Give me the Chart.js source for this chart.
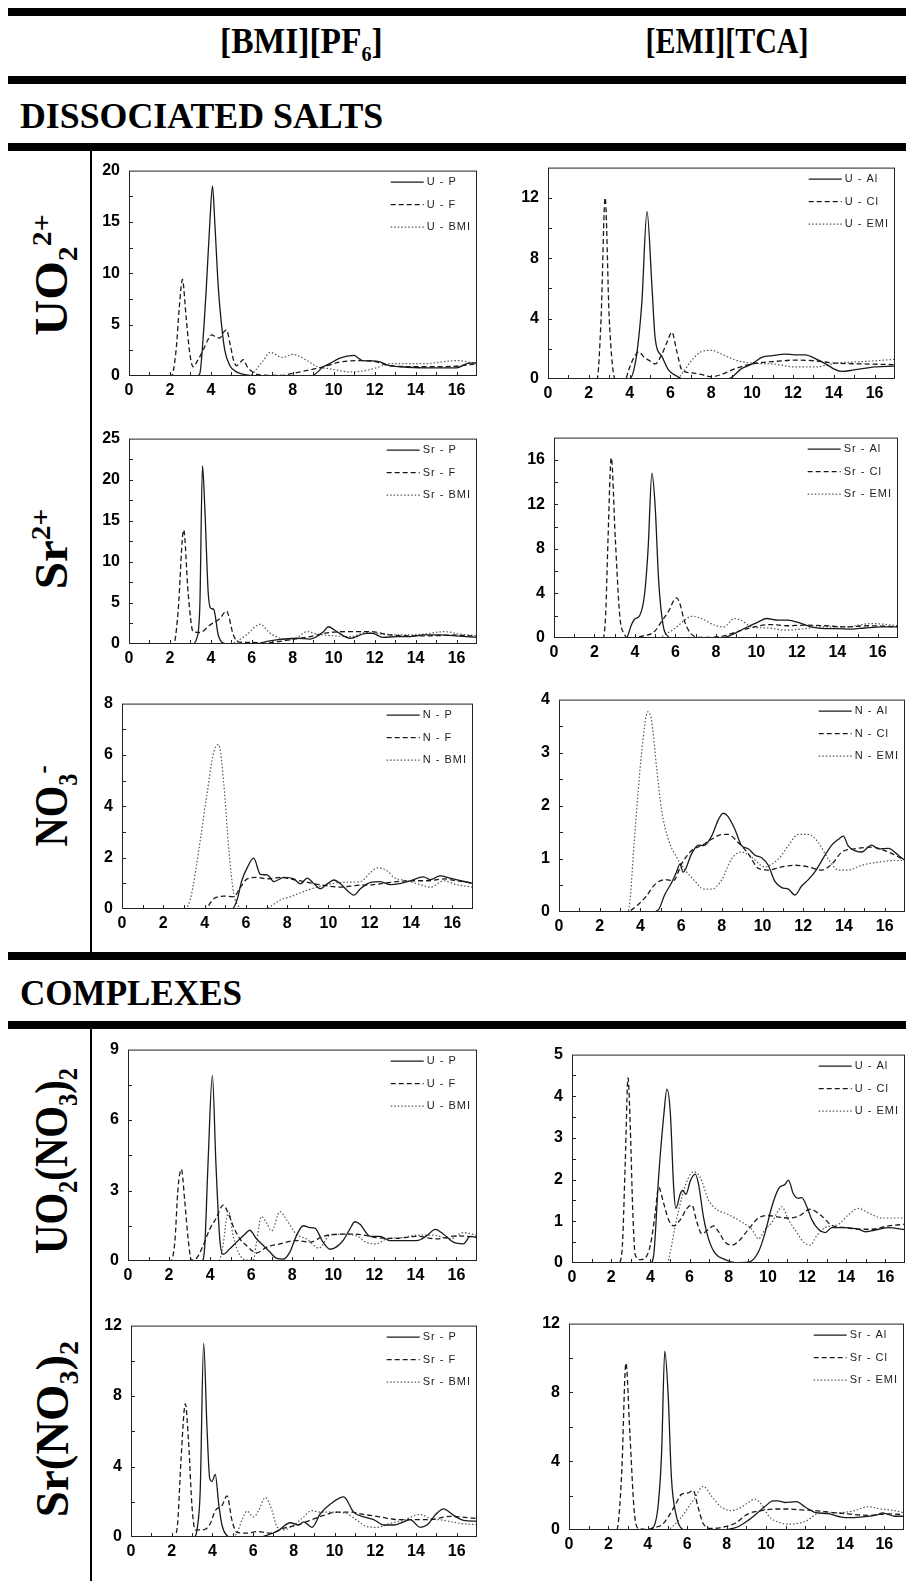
<!DOCTYPE html>
<html>
<head>
<meta charset="utf-8">
<script src="https://cdn.jsdelivr.net/npm/chart.js@4.4.0/dist/chart.umd.min.js"></script>
<style>
html, body { margin: 0; padding: 0; background: #fff; width: 906px; height: 1581px; overflow: hidden; }
.bar { position: absolute; left: 8px; width: 898px; height: 8px; background: #000; }
.vline { position: absolute; left: 90px; width: 2px; background: #000; }
.txt { position: absolute; font-family: "Liberation Serif", "Times New Roman", serif; font-weight: bold; white-space: nowrap; color: #000; line-height: 1; }
.txt sub, .txt sup { font-size: 60%; line-height: 0; }
.panel { position: absolute; }
</style>
</head>
<body>

<div class="bar" style="top:8px"></div>
<div class="bar" style="top:76px"></div>
<div class="bar" style="top:143px"></div>
<div class="bar" style="top:952px"></div>
<div class="bar" style="top:1021px"></div>
<div class="vline" style="top:151px;height:801px"></div>
<div class="vline" style="top:1029px;height:552px"></div>

<div class="txt" id="h1" style="font-size:36px">[BMI][PF<sub>6</sub>]</div>
<div class="txt" id="h2" style="font-size:36px">[EMI][TCA]</div>
<div class="txt" id="s1" style="font-size:36px">DISSOCIATED SALTS</div>
<div class="txt" id="s2" style="font-size:36px">COMPLEXES</div>
<div class="txt" id="r1" style="font-size:46px">UO<sub>2</sub><sup>2+</sup></div>
<div class="txt" id="r2" style="font-size:46px">Sr<sup>2+</sup></div>
<div class="txt" id="r3" style="font-size:46px">NO<sub>3</sub><sup>-</sup></div>
<div class="txt" id="r4" style="font-size:46px">UO<sub>2</sub>(NO<sub>3</sub>)<sub>2</sub></div>
<div class="txt" id="r5" style="font-size:46px">Sr(NO<sub>3</sub>)<sub>2</sub></div>

<script>
// radial distribution functions g(r), r in Angstrom
// --- dissociated salts, [BMI][PF6]
var uBmi_P   = [[0,0],[3.3,0],[3.46,0.25],[3.62,3.7],[3.78,8.7],[3.95,15],[4.08,18.5],[4.19,15],[4.36,8.7],[4.52,5],[4.68,2.5],[4.93,1.0],[5.25,0.4],[5.74,0.1],[6.2,0],[8.9,0],[9.5,0.9],[9.8,1.2],[10.3,1.75],[11.0,2.0],[11.1,1.9],[11.4,1.5],[12.1,1.45],[12.75,1.0],[13.25,0.9],[14.4,0.8],[16.0,0.8],[16.5,1.2],[17,1.3]];
var uBmi_F   = [[0,0],[2.07,0],[2.3,2.5],[2.45,6.5],[2.61,9.4],[2.78,6],[2.95,2.5],[3.13,0.9],[3.35,1.5],[3.62,2.5],[3.85,3.5],[4.03,4.0],[4.25,3.8],[4.44,3.7],[4.6,4.2],[4.76,4.5],[4.95,3.0],[5.1,1.6],[5.25,1.0],[5.42,1.3],[5.58,1.6],[5.75,1.0],[5.9,0.6],[6.4,0.1],[7.5,0.05],[7.86,0.2],[8.84,0.6],[9.5,0.9],[10.3,1.35],[11.1,1.5],[11.9,1.45],[12.75,1.0],[14.4,0.9],[16.0,0.95],[17,1.2]];
var uBmi_BMI = [[0,0],[5.9,0],[6.07,0.3],[6.56,1.5],[6.9,2.3],[7.5,1.8],[8.0,2.1],[8.7,1.5],[9.2,0.9],[9.8,0.7],[10.8,0.4],[11.45,0.5],[12.1,0.8],[12.75,1.2],[14.4,1.2],[16.0,1.5],[17,1.2]];

var srBmi_P   = [[0,0],[3.1,0],[3.3,0.6],[3.46,4.6],[3.59,21.7],[3.7,16.8],[3.87,6.2],[3.98,4.4],[4.14,4.2],[4.36,1.1],[4.6,0.1],[4.8,0],[6.3,0],[6.4,0.1],[7.2,0.5],[8.2,0.7],[8.84,0.6],[9.5,1.5],[9.74,2.1],[10.15,1.5],[10.8,0.7],[11.6,1.3],[11.9,1.3],[12.4,0.8],[13.1,0.9],[13.7,0.9],[14.4,1.1],[15.2,1.1],[16.0,1.0],[17,0.8]];
var srBmi_F   = [[0,0],[2.15,0],[2.25,0.5],[2.4,4],[2.67,13.9],[2.89,6.2],[3.13,1.5],[3.46,1.4],[3.95,2.3],[4.44,3.1],[4.76,4.0],[5.1,1.1],[5.33,0.25],[5.9,0.2],[6.56,0.1],[7.86,0.5],[8.84,0.9],[9.8,1.4],[10.8,1.5],[11.8,1.5],[12.75,1.1],[13.7,1.0],[14.7,1.0],[16.0,1.1],[17,0.9]];
var srBmi_BMI = [[0,0],[5.0,0],[5.25,0.3],[5.74,1.1],[6.4,2.4],[6.9,1.3],[7.4,0.7],[8.0,0.5],[8.7,1.5],[9.2,1.2],[10.0,1.0],[10.8,0.9],[11.6,1.4],[12.4,1.2],[13.4,1.1],[14.4,1.2],[15.4,1.5],[16.2,1.2],[17,1.0]];

var nBmi_P   = [[0,0],[5.33,0],[5.57,0.35],[5.8,1.1],[6.06,1.6],[6.38,1.98],[6.7,1.35],[7.03,1.33],[7.35,1.07],[7.84,1.23],[8.32,1.17],[8.64,0.98],[8.97,1.2],[9.3,0.98],[9.6,0.79],[9.94,0.98],[10.26,1.13],[10.58,0.98],[10.9,0.73],[11.23,0.54],[11.55,0.79],[12.04,1.04],[12.5,1.07],[13.0,0.95],[13.5,1.0],[13.97,1.1],[14.6,1.25],[14.94,1.14],[15.4,1.29],[15.9,1.2],[16.4,1.1],[17,1.0]];
var nBmi_F   = [[0,0],[4.0,0],[4.44,0.4],[4.93,0.5],[5.41,0.48],[5.74,0.85],[6.06,1.17],[6.54,1.23],[7.03,1.17],[7.67,1.23],[8.16,1.17],[8.97,1.04],[9.77,0.92],[10.58,0.85],[11.39,0.92],[12.2,0.95],[13.0,1.04],[13.97,1.1],[14.78,1.1],[15.6,1.17],[16.2,1.1],[17,1.0]];
var nBmi_BMI = [[0,0],[3.0,0],[3.3,0.35],[3.8,2.73],[4.12,4.5],[4.44,6.1],[4.68,6.4],[4.93,4.87],[5.17,2.36],[5.41,0.6],[5.65,0.1],[5.9,0],[7.0,0],[7.19,0.1],[7.67,0.35],[8.16,0.48],[8.97,0.73],[9.77,0.92],[10.74,1.04],[11.55,1.07],[12.04,1.42],[12.36,1.6],[12.85,1.48],[13.17,1.23],[13.8,1.1],[14.45,0.95],[14.94,0.85],[15.59,1.1],[16.2,0.95],[17,0.85]];

// --- dissociated salts, [EMI][TCA]
var uEmi_Al  = [[0,0],[4.0,0],[4.27,1.0],[4.45,2.8],[4.6,5.1],[4.85,11.1],[5.09,6.2],[5.25,2.7],[5.58,1.5],[5.9,0.6],[6.3,0.2],[6.6,0],[8.8,0],[9.5,0.7],[10.0,1.0],[10.5,1.45],[11.0,1.55],[11.6,1.65],[12.1,1.6],[12.6,1.6],[13.1,1.35],[13.6,1.0],[14.1,0.6],[14.4,0.5],[15.0,0.6],[16.0,0.8],[17,0.85]];
var uEmi_Cl  = [[0,0],[2.4,0],[2.6,4],[2.8,12.0],[3.0,4],[3.3,0],[3.8,0],[3.95,0.6],[4.2,1.4],[4.44,1.8],[4.7,1.45],[4.93,1.25],[5.25,1.0],[5.58,1.65],[5.85,2.5],[6.07,3.1],[6.3,1.9],[6.56,0.6],[7.05,0.4],[7.5,0.3],[8.0,0.15],[8.5,0.3],[9.2,0.7],[10.0,1.0],[11.0,1.15],[12.1,1.25],[13.1,1.2],[14.1,1.05],[15.4,1.0],[17,0.95]];
var uEmi_EMI = [[0,0],[6.3,0],[6.56,0.35],[7.05,1.25],[7.5,1.8],[8.0,1.9],[8.5,1.65],[9.2,1.25],[10.0,1.05],[11.0,1.0],[12.1,0.8],[13.1,0.8],[14.1,1.05],[15.4,1.15],[17,1.3]];

var srEmi_Al  = [[0,0],[3.57,0],[3.82,1.15],[3.99,1.7],[4.23,2.0],[4.48,4.0],[4.65,8],[4.84,14.8],[5.0,11.8],[5.17,5.2],[5.39,1.15],[5.63,0.15],[5.8,0],[8.2,0],[8.6,0.15],[9.4,0.85],[10.1,1.45],[10.5,1.75],[11.07,1.6],[11.56,1.6],[12.06,1.4],[12.7,1.0],[13.4,0.85],[14.0,0.85],[14.7,0.8],[15.35,0.9],[16.2,1.0],[17,1.0]];
var srEmi_Cl  = [[0,0],[2.42,0],[2.55,2],[2.67,8.9],[2.83,16.2],[3.03,8.9],[3.25,2.0],[3.49,0.3],[3.7,0],[3.9,0],[4.32,0.15],[4.98,0.6],[5.3,1.45],[5.63,2.3],[6.05,3.6],[6.2,3.2],[6.46,1.45],[6.79,0.35],[7.28,0.05],[8.27,0.15],[9.1,0.6],[9.9,1.0],[10.7,1.2],[11.56,1.1],[12.4,1.15],[13.4,1.1],[14.4,1.0],[15.5,1.1],[17,1.0]];
var srEmi_EMI = [[0,0],[5.2,0],[5.47,0.3],[5.96,0.85],[6.46,1.6],[6.79,1.95],[7.28,1.75],[7.94,1.15],[8.4,1.0],[8.9,1.75],[9.25,1.6],[9.75,1.0],[10.6,0.9],[11.4,0.7],[12.2,0.8],[13.2,1.0],[14.4,1.0],[15.7,1.3],[17,1.1]];

var nEmi_Al  = [[0,0],[4.55,0],[4.88,0.04],[5.2,0.33],[5.53,0.55],[5.78,0.76],[5.94,0.9],[6.1,0.75],[6.52,1.1],[6.85,1.26],[7.1,1.25],[7.5,1.43],[7.83,1.74],[8.07,1.86],[8.3,1.8],[8.65,1.55],[8.97,1.25],[9.3,1.19],[9.63,1.07],[9.96,1.02],[10.28,0.88],[10.6,0.58],[10.94,0.46],[11.27,0.43],[11.6,0.32],[11.92,0.49],[12.25,0.61],[12.58,0.76],[13.07,1.07],[13.4,1.26],[13.73,1.37],[13.97,1.43],[14.2,1.25],[14.5,1.16],[14.87,1.13],[15.36,1.26],[15.7,1.19],[16.18,1.2],[16.67,1.07],[17,0.97]];
var nEmi_Cl  = [[0,0],[3.32,0],[3.73,0.09],[4.23,0.27],[4.72,0.52],[5.2,0.61],[5.62,0.59],[6.03,0.91],[6.52,1.16],[7.0,1.25],[7.5,1.37],[8.0,1.46],[8.32,1.46],[8.8,1.31],[9.3,1.1],[9.8,0.82],[10.28,0.79],[10.94,0.85],[11.6,0.88],[12.25,0.85],[12.9,0.79],[13.4,0.9],[13.9,1.13],[14.5,1.19],[15.36,1.22],[16.18,1.13],[17,0.97]];
var nEmi_EMI = [[0,0],[3.35,0],[3.45,0.09],[3.73,1.5],[4.06,3.0],[4.36,3.77],[4.55,3.6],[4.8,2.7],[5.04,1.92],[5.37,1.37],[5.78,1.03],[6.2,0.79],[6.68,0.58],[7.1,0.43],[7.5,0.43],[8.0,0.61],[8.48,1.0],[8.97,1.13],[9.47,1.03],[10.1,0.85],[10.78,1.0],[11.27,1.25],[11.76,1.46],[12.25,1.46],[12.74,1.31],[13.23,1.0],[13.73,0.79],[14.2,0.79],[14.87,0.88],[15.7,0.94],[16.5,0.97],[17,0.97]];

// --- complexes, [BMI][PF6]
var uCxBmi_P   = [[0,0],[3.6,0],[3.74,0.66],[3.9,4.2],[4.11,7.9],[4.28,4.2],[4.47,0.94],[4.63,0.28],[4.96,0.52],[5.28,0.8],[5.69,1.14],[5.93,1.31],[6.26,0.94],[6.59,0.66],[6.9,0.39],[7.24,0.11],[7.56,0.08],[7.89,0.39],[8.2,1.07],[8.54,1.5],[8.86,1.42],[9.1,1.4],[9.5,0.8],[9.84,0.5],[10.16,0.6],[10.5,0.9],[10.8,1.35],[11.06,1.67],[11.3,1.56],[11.8,1.05],[12.28,1.05],[12.76,0.87],[13.4,0.87],[14.06,0.87],[14.55,1.07],[14.96,1.35],[15.37,1.14],[15.85,0.8],[16.34,0.73],[16.67,1.05],[17,1.0]];
var uCxBmi_F   = [[0,0],[2.07,0],[2.28,0.8],[2.44,3.14],[2.6,3.9],[2.76,2.6],[2.93,0.94],[3.09,0.04],[3.33,0.11],[3.66,0.66],[3.98,1.35],[4.3,1.83],[4.63,2.38],[4.88,2.04],[5.12,1.49],[5.45,0.94],[5.77,0.66],[6.26,0.34],[6.75,0.59],[7.4,0.73],[8.2,0.87],[8.86,0.8],[9.5,1.05],[10.3,1.14],[11.1,1.14],[12.1,1.0],[13.08,0.96],[14.06,1.05],[15.04,0.94],[16.0,1.07],[17,1.02]];
var uCxBmi_BMI = [[0,0],[4.4,0],[4.63,0.66],[4.8,1.83],[4.93,2.04],[5.12,1.07],[5.45,0.25],[5.77,0.04],[6.1,0.04],[6.26,0.8],[6.5,1.9],[6.75,1.62],[7.0,1.28],[7.4,2.1],[7.72,1.76],[8.2,1.14],[8.7,0.94],[9.3,0.55],[9.84,1.1],[10.5,1.14],[11.14,1.07],[11.6,0.8],[12.1,0.73],[12.6,0.94],[13.4,1.0],[14.06,1.1],[14.88,1.1],[15.7,0.94],[16.34,1.21],[17,1.1]];

var srCxBmi_P   = [[0,0],[3.11,0],[3.24,0.4],[3.4,2.6],[3.57,11.0],[3.73,6.3],[3.87,3.3],[3.98,3.15],[4.14,3.56],[4.31,1.87],[4.47,0.68],[4.72,0.07],[4.9,0],[6.4,0],[6.52,0.04],[7.17,0.31],[7.83,0.81],[8.24,0.68],[8.48,0.86],[8.89,0.55],[9.3,1.32],[9.8,1.87],[10.45,2.28],[10.94,1.41],[11.43,1.14],[11.92,0.99],[12.41,0.68],[12.9,0.68],[13.4,0.86],[13.72,0.99],[14.2,0.55],[14.54,0.68],[15.0,1.32],[15.36,1.6],[15.85,1.23],[16.34,0.95],[17,0.9]];
var srCxBmi_F   = [[0,0],[2.1,0],[2.29,0.77],[2.46,4.44],[2.67,7.56],[2.83,5.36],[3.0,1.69],[3.16,0.4],[3.4,0.4],[3.65,0.44],[3.9,0.77],[4.14,1.5],[4.47,1.78],[4.72,2.33],[4.96,0.95],[5.2,0.26],[5.7,0.22],[6.19,0.31],[6.85,0.22],[7.5,0.5],[8.16,0.68],[8.8,0.95],[9.47,1.23],[10.12,1.41],[10.78,1.41],[11.43,1.28],[12.25,1.14],[13.07,0.99],[13.89,0.99],[14.7,0.99],[15.7,1.17],[17,1.05]];
var srCxBmi_BMI = [[0,0],[4.95,0],[5.2,0.22],[5.45,0.95],[5.7,1.47],[6.03,1.14],[6.27,1.5],[6.6,2.24],[6.93,1.5],[7.17,0.59],[7.5,0.4],[8.0,0.68],[8.48,1.14],[8.89,1.5],[9.3,1.41],[9.96,1.41],[10.61,1.32],[11.1,0.95],[11.6,0.59],[12.1,0.55],[12.74,0.77],[13.4,0.95],[14.2,1.28],[14.7,1.05],[15.36,0.95],[16.2,0.77],[17,0.7]];

// --- complexes, [EMI][TCA]
var uCxEmi_Al  = [[0,0],[4.0,0],[4.17,0.19],[4.42,2.05],[4.68,3.52],[4.85,4.17],[5.02,3.6],[5.19,1.82],[5.3,1.31],[5.53,1.66],[5.65,1.74],[5.82,1.65],[6.04,1.97],[6.29,2.13],[6.46,1.89],[6.72,1.08],[6.97,0.58],[7.31,0.23],[7.82,0.08],[8.33,0.01],[9.01,0.02],[9.52,0.27],[9.86,0.73],[10.2,1.35],[10.54,1.78],[10.88,1.89],[11.05,1.99],[11.3,1.66],[11.56,1.55],[11.73,1.57],[11.99,1.35],[12.24,1.04],[12.58,0.81],[12.92,0.73],[13.27,0.85],[13.95,0.85],[14.63,0.81],[14.97,0.75],[15.65,0.81],[16.15,0.85],[17,0.8]];
var uCxEmi_Cl  = [[0,0],[2.38,0],[2.55,0.27],[2.72,2.43],[2.86,4.44],[2.98,3.2],[3.1,1.28],[3.23,0.19],[3.49,0.08],[3.74,0.12],[4.0,0.43],[4.25,1.2],[4.42,1.82],[4.68,1.43],[4.93,1.04],[5.19,0.89],[5.53,1.04],[5.87,1.31],[6.12,1.39],[6.38,0.97],[6.63,0.7],[6.97,0.81],[7.23,0.89],[7.48,0.75],[7.82,0.5],[8.16,0.43],[8.5,0.52],[9.01,0.81],[9.52,1.08],[10.03,1.14],[10.54,1.1],[11.05,1.08],[11.56,1.12],[12.16,1.29],[12.76,1.12],[13.27,0.9],[13.95,0.85],[14.63,0.81],[15.31,0.81],[16.15,0.89],[17,0.93]];
var uCxEmi_EMI = [[0,0],[4.85,0],[5.02,0.27],[5.27,0.89],[5.61,1.58],[5.95,2.05],[6.21,2.19],[6.55,2.05],[6.97,1.51],[7.31,1.31],[7.99,1.16],[8.67,0.98],[9.18,0.81],[9.52,0.58],[9.86,0.81],[10.2,0.97],[10.46,1.2],[10.71,1.35],[11.05,1.04],[11.48,0.73],[11.82,0.5],[12.16,0.43],[12.5,0.66],[12.92,0.85],[13.61,0.93],[14.12,1.16],[14.63,1.31],[15.14,1.2],[15.82,1.08],[17,1.08]];

var srCxEmi_Al  = [[0,0],[3.94,0],[4.27,0.15],[4.53,1.5],[4.7,4.5],[4.86,10.4],[5.03,7.9],[5.2,3.0],[5.46,0.75],[5.71,0.09],[5.9,0],[7.6,0],[8.07,0.04],[8.58,0.19],[9.09,0.56],[9.6,1.03],[9.93,1.35],[10.35,1.69],[10.6,1.69],[10.95,1.6],[11.54,1.65],[11.96,1.35],[12.47,1.03],[13.14,0.95],[13.82,0.75],[14.32,0.72],[15.0,0.78],[15.68,0.9],[15.9,1.0],[16.52,0.8],[17,0.8]];
var srCxEmi_Cl  = [[0,0],[2.42,0],[2.67,3.2],[2.89,9.7],[3.09,5.6],[3.31,1.1],[3.51,0.09],[4.02,0.04],[4.36,0.15],[4.7,0.28],[5.03,0.75],[5.37,1.41],[5.71,2.07],[6.05,2.16],[6.3,2.3],[6.55,1.32],[6.81,0.38],[7.23,0.09],[7.74,0.15],[8.41,0.38],[9.09,0.94],[9.76,1.13],[10.44,1.22],[11.1,1.22],[11.79,1.17],[12.47,1.13],[13.3,1.03],[14.16,0.94],[15.17,0.85],[16.18,0.94],[17,0.9]];
var srCxEmi_EMI = [[0,0],[5.0,0],[5.2,0.15],[5.71,0.75],[6.05,1.32],[6.39,1.88],[6.81,2.54],[7.23,1.97],[7.74,1.32],[8.24,1.13],[8.75,1.32],[9.09,1.6],[9.43,1.79],[9.76,1.5],[10.18,0.75],[10.6,0.47],[11.1,0.34],[11.6,0.38],[12.1,0.56],[12.6,0.94],[13.3,0.98],[14.0,1.03],[14.5,1.13],[15.17,1.35],[15.84,1.22],[16.52,1.13],[17,1.0]];

// line looks
var styles = {
    solid: { borderColor: '#1a1a1a', borderWidth: 1.3, borderDash: [] },
    dash:  { borderColor: '#1a1a1a', borderWidth: 1.3, borderDash: [5, 3] },
    dot:   { borderColor: '#555', borderWidth: 1.2, borderDash: [1.5, 2] }
};

// plot area [left, top, right, bottom] in page pixels
var panels = [
    { box: [129, 164, 477, 376], yMax: 20, yStep: 5, set: [['U - P', uBmi_P, 'solid'], ['U - F', uBmi_F, 'dash'], ['U - BMI', uBmi_BMI, 'dot']] },
    { box: [548, 161, 895, 379], yMax: 14, yStep: 4, set: [['U - Al', uEmi_Al, 'solid'], ['U - Cl', uEmi_Cl, 'dash'], ['U - EMI', uEmi_EMI, 'dot']] },
    { box: [129, 432, 477, 644], yMax: 25, yStep: 5, set: [['Sr - P', srBmi_P, 'solid'], ['Sr - F', srBmi_F, 'dash'], ['Sr - BMI', srBmi_BMI, 'dot']] },
    { box: [554, 431, 898, 638], yMax: 18, yStep: 4, set: [['Sr - Al', srEmi_Al, 'solid'], ['Sr - Cl', srEmi_Cl, 'dash'], ['Sr - EMI', srEmi_EMI, 'dot']] },
    { box: [122, 697, 473, 909], yMax: 8, yStep: 2, set: [['N - P', nBmi_P, 'solid'], ['N - F', nBmi_F, 'dash'], ['N - BMI', nBmi_BMI, 'dot']] },
    { box: [559, 693, 905, 912], yMax: 4, yStep: 1, set: [['N - Al', nEmi_Al, 'solid'], ['N - Cl', nEmi_Cl, 'dash'], ['N - EMI', nEmi_EMI, 'dot']] },
    { box: [128, 1043, 477, 1261], yMax: 9, yStep: 3, set: [['U - P', uCxBmi_P, 'solid'], ['U - F', uCxBmi_F, 'dash'], ['U - BMI', uCxBmi_BMI, 'dot']] },
    { box: [572, 1048, 905, 1263], yMax: 5, yStep: 1, set: [['U - Al', uCxEmi_Al, 'solid'], ['U - Cl', uCxEmi_Cl, 'dash'], ['U - EMI', uCxEmi_EMI, 'dot']] },
    { box: [131, 1319, 477, 1537], yMax: 12, yStep: 4, set: [['Sr - P', srCxBmi_P, 'solid'], ['Sr - F', srCxBmi_F, 'dash'], ['Sr - BMI', srCxBmi_BMI, 'dot']] },
    { box: [569, 1317, 904, 1530], yMax: 12, yStep: 4, set: [['Sr - Al', srCxEmi_Al, 'solid'], ['Sr - Cl', srCxEmi_Cl, 'dash'], ['Sr - EMI', srCxEmi_EMI, 'dot']] }
];

var PAD_L = 42, PAD_T = 12, PAD_R = 6, PAD_B = 26;

// frame, inward ticks and the legend inside the plot
var framePlugin = {
    id: 'frame',
    afterDraw: function(chart) {
        var ctx = chart.ctx, a = chart.chartArea;
        var xs = chart.scales.x, ys = chart.scales.y;
        var minor = chart.options.plugins.frame.minor;
        ctx.save();
        ctx.strokeStyle = '#222';
        ctx.lineWidth = 1;
        ctx.setLineDash([]);
        ctx.strokeRect(a.left + 0.5, a.top + 0.5, a.right - a.left - 1, a.bottom - a.top - 1);
        ctx.beginPath();
        for (var r = 1; r < 17; r++) {
            var px = Math.round(xs.getPixelForValue(r)) + 0.5;
            ctx.moveTo(px, a.bottom);
            ctx.lineTo(px, a.bottom - 4);
        }
        for (var v = minor; v < ys.max; v += minor) {
            var py = Math.round(ys.getPixelForValue(v)) + 0.5;
            ctx.moveTo(a.left, py);
            ctx.lineTo(a.left + 4, py);
        }
        ctx.stroke();

        // legend
        ctx.font = '11px "Liberation Sans", Arial, sans-serif';
        ctx.letterSpacing = '1px';
        var sets = chart.data.datasets;
        var wMax = 0;
        sets.forEach(function(d) { wMax = Math.max(wMax, ctx.measureText(d.label).width); });
        var tx = a.right - wMax - 6;
        sets.forEach(function(d, i) {
            var y = a.top + 11.5 + i * 22.5;
            ctx.strokeStyle = d.borderColor;
            ctx.lineWidth = d.borderWidth;
            ctx.setLineDash(d.borderDash);
            ctx.beginPath();
            ctx.moveTo(tx - 36, y);
            ctx.lineTo(tx - 3, y);
            ctx.stroke();
            ctx.fillStyle = '#222';
            ctx.textBaseline = 'middle';
            ctx.fillText(d.label, tx, y);
        });
        ctx.restore();
    }
};

var tickFont = { family: '"Liberation Sans", Arial, sans-serif', size: 16, weight: 'bold' };

panels.forEach(function(p, k) {
    var L = p.box[0], T = p.box[1], R = p.box[2], B = p.box[3];
    var W = R - L + PAD_L + PAD_R, H = B - T + PAD_T + PAD_B;
    var div = document.createElement('div');
    div.className = 'panel';
    div.style.left = (L - PAD_L) + 'px';
    div.style.top = (T - PAD_T) + 'px';
    div.style.width = W + 'px';
    div.style.height = H + 'px';
    var cv = document.createElement('canvas');
    cv.id = 'chart' + (k + 1);
    cv.width = W; cv.height = H;
    cv.style.width = W + 'px'; cv.style.height = H + 'px';
    div.appendChild(cv);
    document.body.appendChild(div);

    var datasets = p.set.map(function(s) {
        var st = styles[s[2]];
        return {
            label: s[0],
            data: s[1],
            borderColor: st.borderColor,
            borderWidth: st.borderWidth,
            borderDash: st.borderDash,
            pointRadius: 0,
            fill: false,
            cubicInterpolationMode: 'monotone'
        };
    });

    new Chart(cv, {
        type: 'line',
        data: { datasets: datasets },
        options: {
            responsive: false,
            animation: false,
            devicePixelRatio: 1,
            layout: { padding: { left: 0, top: PAD_T, right: PAD_R, bottom: 0 } },
            plugins: {
                legend: { display: false },
                tooltip: { enabled: false },
                frame: { minor: p.yStep / 2 }
            },
            scales: {
                x: {
                    type: 'linear', min: 0, max: 17,
                    grid: { display: false, drawTicks: false }, border: { display: false },
                    ticks: { stepSize: 2, includeBounds: false, font: tickFont, color: '#000', padding: 5, maxRotation: 0 },
                    afterFit: function(s) { s.height = PAD_B; }
                },
                y: {
                    min: 0, max: p.yMax,
                    grid: { display: false, drawTicks: false }, border: { display: false },
                    ticks: { stepSize: p.yStep, includeBounds: false, font: tickFont, color: '#000', padding: 9 },
                    afterFit: function(s) { s.width = PAD_L; }
                }
            }
        },
        plugins: [framePlugin]
    });
});

// text labels: centre them and squeeze to the measured width
function place(id, cx, cy, len, rot, fromLeft) {
    var el = document.getElementById(id);
    var w = el.offsetWidth, h = el.offsetHeight;
    var k = len / w;
    if (fromLeft) { cx = cx + len / 2; }
    el.style.left = (cx - w / 2) + 'px';
    el.style.top = (cy - h / 2) + 'px';
    el.style.transform = 'rotate(' + rot + 'deg) scaleX(' + k + ')';
}
place('h1', 301, 41, 163, 0);
place('h2', 727, 41, 163, 0);
place('s1', 20, 116, 363, 0, true);
place('s2', 20, 993, 222, 0, true);
place('r1', 52, 275, 121, -90);
place('r2', 52, 549, 81, -90);
place('r3', 52, 806, 81, -90);
place('r4', 52, 1161, 186, -90);
place('r5', 52, 1429, 176, -90);
</script>
</body>
</html>
